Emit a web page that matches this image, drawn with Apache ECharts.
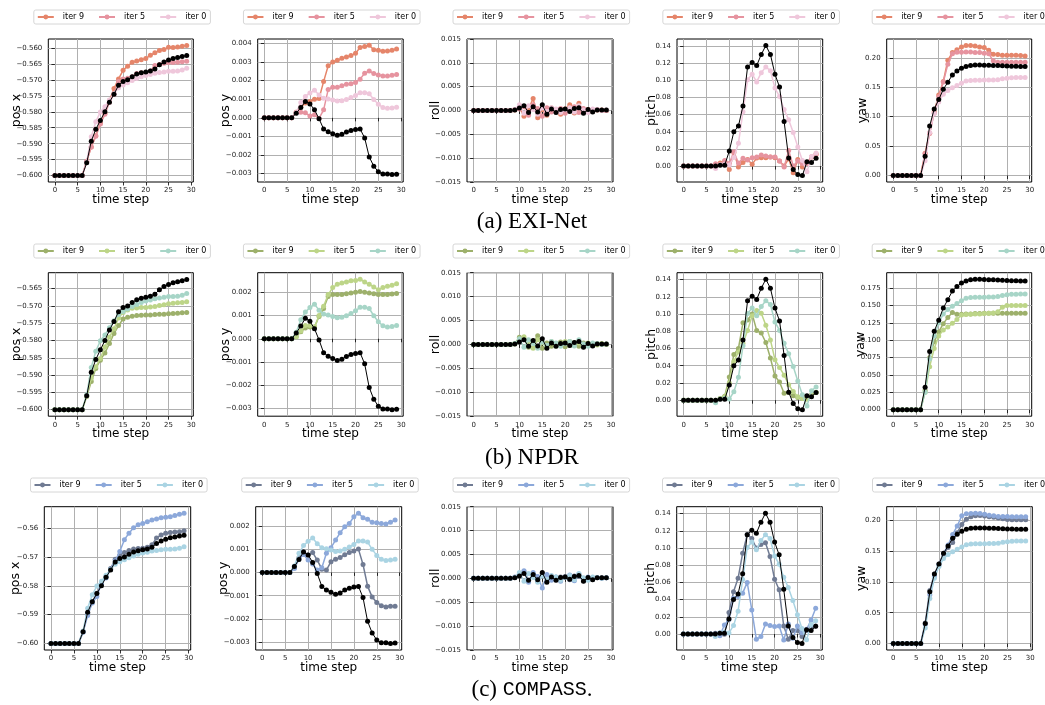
<!DOCTYPE html>
<html>
<head>
<meta charset="utf-8">
<script src="https://cdn.jsdelivr.net/npm/echarts@6/dist/echarts.min.js"></script>
<style>
html,body{margin:0;padding:0;background:#fff;}
#chart{width:1045px;height:705px;}
</style>
</head>
<body>
<div id="chart"></div>
<script>
// ---------------- data ----------------
const steps = [0,1,2,3,4,5,6,7,8,9,10,11,12,13,14,15,16,17,18,19,20,21,22,23,24,25,26,27,28,29];
const legendNames = ['iter 9','iter 5','iter 0'];
const quantityNames = ['pos x','pos y','roll','pitch','yaw'];
const captions = ['(a) EXI-Net','(b) NPDR','(c) COMPASS.'];
const xTickValues = [0,5,10,15,20,25,30];

// ground truth (black)
const gtPosX = [-0.600,-0.600,-0.600,-0.600,-0.600,-0.600,-0.600,-0.5960,-0.5892,-0.5855,-0.5827,-0.5800,-0.5770,-0.5745,-0.5717,-0.5705,-0.5700,-0.5690,-0.5682,-0.5678,-0.5675,-0.5672,-0.5666,-0.5653,-0.5644,-0.5638,-0.5633,-0.5630,-0.5627,-0.5624];
const gtPosY = [0,0,0,0,0,0,0,0.00025,0.00055,0.00088,0.00075,0.00043,-0.00005,-0.0006,-0.00075,-0.00085,-0.00094,-0.00088,-0.00076,-0.00068,-0.00063,-0.0006,-0.00108,-0.0021,-0.0026,-0.0029,-0.00302,-0.00302,-0.00305,-0.00303];
const gtRoll = [0,0,0,0,0,0,0,0,0,0.0001,0.0005,0.0010,-0.0004,0.0008,-0.0003,0.0012,-0.0008,0.0003,-0.0004,0.0002,0.0003,-0.0002,0.0004,0.0006,-0.0006,0.0002,-0.0003,0.0001,0.0001,0.0001];
const gtPitch = [0,0,0,0,0,0,0,0,0.001,0.001,0.0175,0.040,0.0466,0.070,0.1155,0.1207,0.117,0.130,0.1404,0.130,0.107,0.092,0.052,0.0093,-0.004,-0.010,-0.011,0.005,0.004,0.009];
const gtYaw = [0,0,0,0,0,0,0,0.0325,0.084,0.113,0.129,0.1465,0.1585,0.171,0.1775,0.1825,0.1855,0.1872,0.1878,0.1878,0.1876,0.1874,0.1872,0.1869,0.1866,0.1862,0.1859,0.1857,0.1855,0.1855];

// iter 0 (same initialisation in every method)
const it0PosX = [-0.600,-0.600,-0.600,-0.600,-0.600,-0.600,-0.600,-0.5957,-0.5878,-0.5831,-0.5801,-0.5784,-0.5763,-0.5743,-0.5725,-0.5716,-0.5709,-0.5702,-0.5696,-0.5690,-0.5686,-0.5683,-0.5679,-0.5677,-0.5675,-0.5673,-0.5673,-0.5672,-0.5669,-0.5664];
const it0PosY = [0,0,0,0,0,0,0,0.00028,0.00082,0.00115,0.00134,0.00148,0.00123,0.00106,0.00102,0.00096,0.0009,0.00092,0.00099,0.00109,0.0012,0.00135,0.00135,0.0013,0.00099,0.00073,0.00056,0.00051,0.00053,0.00057];
const it0Roll = [0,0,0,0,0,0,0,0,0,0.0002,0.0012,-0.0006,0.0010,0.0002,-0.0008,0.0005,-0.0002,0.0006,0.0003,-0.0004,0.0002,0.0006,-0.0003,0.0010,0.0001,-0.0004,0.0003,0.0002,0.0000,0.0001];
const it0Pitch = [0,0,0,0,0,0,0,-0.003,0.0015,0.002,0.0013,0.0098,0.0265,0.0633,0.1005,0.107,0.098,0.1088,0.1155,0.111,0.0908,0.081,0.066,0.054,0.039,0.0223,0.0064,-0.0068,0.011,0.0153];
const it0Yaw = [0,0,0,0,0,0,0,0.025,0.073,0.106,0.125,0.138,0.1445,0.149,0.153,0.157,0.1605,0.1615,0.162,0.162,0.1622,0.1623,0.1625,0.163,0.1645,0.1655,0.1662,0.1665,0.1666,0.1666];

// EXI-Net
const exi9PosX = [-0.600,-0.600,-0.600,-0.600,-0.600,-0.600,-0.600,-0.5955,-0.5910,-0.5875,-0.5835,-0.5805,-0.5765,-0.5727,-0.5697,-0.5670,-0.5657,-0.5645,-0.5641,-0.5637,-0.5633,-0.5623,-0.5615,-0.5608,-0.5605,-0.5598,-0.5599,-0.5597,-0.5595,-0.5592];
const exi5PosX = [-0.600,-0.600,-0.600,-0.600,-0.600,-0.600,-0.600,-0.5955,-0.5910,-0.5877,-0.5838,-0.5808,-0.5770,-0.5745,-0.5705,-0.5697,-0.5695,-0.5690,-0.5680,-0.5678,-0.5677,-0.5672,-0.5655,-0.5652,-0.5648,-0.5646,-0.5646,-0.5645,-0.5643,-0.5642];
const exi9PosY = [0,0,0,0,0,0,0,0.0003,0.00057,0.0008,0.00088,0.001,0.00104,0.00195,0.0028,0.003,0.0031,0.0032,0.00327,0.00335,0.00347,0.00378,0.00384,0.0039,0.00366,0.00363,0.00358,0.0036,0.00363,0.0037];
const exi5PosY = [0,0,0,0,0,0,0,0.0003,0.0003,0.00027,0.0001,0.00016,-0.00003,0.00043,0.00152,0.00165,0.00165,0.00172,0.0018,0.00184,0.0019,0.00208,0.0024,0.00252,0.00238,0.00231,0.00225,0.00225,0.00229,0.00233];
const exi9Roll = [0,0,0,0,0,0,0,0,0,0.0001,0.0006,-0.0012,0.0003,0.0025,-0.0015,0.0002,-0.0010,0.0005,0.0001,-0.0008,0.0003,0.0012,-0.0005,0.0015,-0.0003,0.0002,-0.0002,0.0001,0.0001,0.0];
const exi5Roll = [0,0,0,0,0,0,0,0,0,0.0002,0.0003,0.0008,-0.0010,0.0012,0.0004,-0.0012,0.0006,-0.0003,0.0002,0.0004,-0.0006,0.0003,0.0008,-0.0004,0.0004,-0.0002,0.0001,0.0002,0.0,0.0];
const exi9Pitch = [0,0,0,0,0,0,0,0.0015,0.0035,0.0055,-0.004,0.0155,-0.001,0.004,0.0075,0.002,0.0095,0.0097,0.0097,0.0105,0.0097,0.006,0,0.0085,-0.0078,0.0075,-0.001,0.0035,0.0105,0.014];
const exi5Pitch = [0,0,0,0,0,0,0,0.0027,0.0015,0.0065,0.003,0.0165,0.0035,0.009,0.007,0.0097,0.0105,0.013,0.0117,0.0105,0.0105,0.006,-0.001,0.018,0,0.006,0.003,0.003,0.0105,0.0135];
const exi9Yaw = [0,0,0,0,0,0,0,0.0378,0.0717,0.1085,0.137,0.16,0.196,0.209,0.214,0.2186,0.221,0.221,0.2203,0.2186,0.2175,0.213,0.206,0.2056,0.2045,0.2045,0.2045,0.2045,0.2042,0.203];
const exi5Yaw = [0,0,0,0,0,0,0,0.037,0.072,0.106,0.134,0.159,0.189,0.207,0.2096,0.2096,0.21,0.21,0.209,0.209,0.208,0.207,0.195,0.1927,0.1927,0.1927,0.1927,0.1927,0.1927,0.1927];

// NPDR
const npdr9PosX = [-0.600,-0.600,-0.600,-0.600,-0.600,-0.600,-0.600,-0.5962,-0.5919,-0.5881,-0.5857,-0.5836,-0.5809,-0.5780,-0.5757,-0.5738,-0.5733,-0.5730,-0.5728,-0.5727,-0.5726,-0.5726,-0.5725,-0.5724,-0.5724,-0.5723,-0.5722,-0.5721,-0.5720,-0.5719];
const npdr5PosX = [-0.600,-0.600,-0.600,-0.600,-0.600,-0.600,-0.600,-0.5960,-0.5909,-0.5876,-0.5852,-0.5819,-0.5790,-0.5766,-0.5735,-0.5719,-0.5712,-0.5707,-0.5706,-0.5705,-0.5705,-0.5703,-0.5702,-0.5699,-0.5697,-0.5694,-0.5692,-0.5691,-0.5690,-0.5688];
const npdr9PosY = [0,0,0,0,0,0,0,0.0001,0.0003,0.00046,0.0005,0.0005,0.00096,0.0013,0.00182,0.0019,0.0019,0.0019,0.00194,0.00197,0.002,0.00203,0.002,0.00197,0.00194,0.0019,0.0019,0.0019,0.00192,0.00195];
const npdr5PosY = [0,0,0,0,0,0,0,0.00007,0.00033,0.00057,0.00057,0.0005,0.001,0.0014,0.0019,0.0022,0.00234,0.0024,0.00244,0.00249,0.00251,0.00256,0.00244,0.00234,0.00223,0.00211,0.0022,0.00226,0.0023,0.00237];
const npdr9Roll = [0,0,0,0,0,0,0,0,0,0.0002,0.0015,0.0012,-0.0006,0.0004,0.0018,-0.0008,0.0003,-0.0004,0.0002,0.0005,-0.0005,0.0006,0.0002,-0.0004,0.0003,0.0001,-0.0002,0.0002,0.0001,0.0];
const npdr5Roll = [0,0,0,0,0,0,0,0,0,0.0001,0.0008,0.0016,0.0002,-0.0008,0.0010,0.0004,-0.0005,0.0006,-0.0003,0.0002,0.0006,-0.0002,0.0004,0.0003,-0.0005,0.0003,0.0001,-0.0001,0.0002,0.0001];
const npdr9Pitch = [0,0,0,0,0,0,0,-0.001,0.002,0.0047,0.027,0.053,0.06,0.09,0.093,0.100,0.081,0.078,0.067,0.049,0.028,0.021,0.008,0.009,0.005,0.003,0.002,0.003,0.006,0.009];
const npdr5Pitch = [0,0,0,0,0,0,0,0,0.002,0.004,0.02,0.045,0.056,0.066,0.081,0.098,0.104,0.101,0.087,0.07,0.047,0.038,0.029,0.018,0.01,0.004,0.002,0.001,0.006,0.009];
const npdr9Yaw = [0,0,0,0,0,0,0,0.028,0.075,0.098,0.112,0.124,0.133,0.140,0.1375,0.1375,0.138,0.138,0.1385,0.1385,0.139,0.139,0.139,0.139,0.139,0.139,0.139,0.139,0.139,0.139];
const npdr5Yaw = [0,0,0,0,0,0,0,0.025,0.062,0.088,0.106,0.115,0.119,0.1245,0.130,0.1365,0.137,0.1375,0.138,0.138,0.1385,0.139,0.1395,0.1413,0.1476,0.150,0.150,0.150,0.150,0.150];

// COMPASS
const comp9PosX = [-0.600,-0.600,-0.600,-0.600,-0.600,-0.600,-0.600,-0.5960,-0.5895,-0.5855,-0.5826,-0.5794,-0.5768,-0.5740,-0.5708,-0.5693,-0.5684,-0.5677,-0.5672,-0.5670,-0.5669,-0.5666,-0.5657,-0.5634,-0.5623,-0.5617,-0.5615,-0.5613,-0.5612,-0.5609];
const comp5PosX = [-0.600,-0.600,-0.600,-0.600,-0.600,-0.600,-0.600,-0.5961,-0.5903,-0.5860,-0.5837,-0.5791,-0.5773,-0.5742,-0.5713,-0.5681,-0.5640,-0.5617,-0.5598,-0.5588,-0.5583,-0.5577,-0.5571,-0.5568,-0.5563,-0.5562,-0.5560,-0.5556,-0.5551,-0.5548];
const comp9PosY = [0,0,0,0,0,0,0,0.0002,0.00063,0.00089,0.00075,0.00085,0.00053,0.00014,0.0001,0.00046,0.00056,0.00064,0.00076,0.00085,0.00092,0.001,0.00034,-0.00059,-0.00106,-0.00129,-0.00143,-0.00148,-0.00145,-0.00145];
const comp5PosY = [0,0,0,0,0,0,0,0.00017,0.00056,0.00077,0.00053,0.00036,0.0001,0.0002,0.00082,0.00106,0.00139,0.0017,0.00196,0.0021,0.00239,0.00254,0.00235,0.00228,0.00215,0.00213,0.0021,0.00208,0.00215,0.00225];
const comp9Roll = [0,0,0,0,0,0,0,0,0,0.0002,0.0006,0.0014,-0.0004,0.0009,-0.0006,0.0010,-0.0005,0.0004,-0.0003,0.0003,0.0004,-0.0003,0.0005,0.0004,-0.0005,0.0002,-0.0002,0.0001,0.0001,0.0001];
const comp5Roll = [0,0,0,0,0,0,0,0,0,0.0003,0.0010,0.0016,-0.0008,0.0012,0.0004,-0.0020,0.0008,-0.0004,0.0003,-0.0006,0.0002,0.0007,-0.0005,0.0009,-0.0004,0.0003,-0.0002,0.0002,0.0,0.0001];
const comp9Pitch = [0,0,0,0,0,0,0,0.0008,0.0008,-0.0004,0.025,0.049,0.0647,0.094,0.1156,0.111,0.100,0.104,0.106,0.090,0.0636,0.0514,0.0093,-0.0062,0.004,0.004,-0.003,0.004,0.0066,0.0093];
const comp5Pitch = [0,0,0,0,0,0,0,-0.001,-0.002,0.0105,0.017,0.0416,0.0436,0.0475,0.060,0.028,-0.0062,-0.003,0.0117,0.010,0.0086,0.0093,-0.007,0.0117,-0.005,0.0093,0.0016,0.0054,0.0163,0.030];
const comp9Yaw = [0,0,0,0,0,0,0,0.0334,0.0862,0.113,0.129,0.1455,0.156,0.164,0.180,0.1934,0.202,0.206,0.2075,0.208,0.207,0.206,0.205,0.2038,0.2026,0.2016,0.201,0.201,0.201,0.201];
const comp5Yaw = [0,0,0,0,0,0,0,0.0307,0.079,0.1088,0.1277,0.1466,0.160,0.177,0.191,0.2075,0.211,0.2112,0.2117,0.2112,0.210,0.2085,0.2075,0.2065,0.2065,0.2062,0.206,0.206,0.206,0.206];

// y tick labels per panel
const yTicksPosX1 = [-0.600,-0.595,-0.590,-0.585,-0.580,-0.575,-0.570,-0.565,-0.560];
const yTicksPosX2 = [-0.600,-0.595,-0.590,-0.585,-0.580,-0.575,-0.570,-0.565];
const yTicksPosX3 = [-0.60,-0.59,-0.58,-0.57,-0.56];
const yTicksPosY1 = [-0.003,-0.002,-0.001,0.000,0.001,0.002,0.003,0.004];
const yTicksPosY23 = [-0.003,-0.002,-0.001,0.000,0.001,0.002];
const yTicksRoll = [-0.015,-0.010,-0.005,0.000,0.005,0.010,0.015];
const yTicksPitch = [0.00,0.02,0.04,0.06,0.08,0.10,0.12,0.14];
const yTicksYaw13 = [0.00,0.05,0.10,0.15,0.20];
const yTicksYaw2 = [0.000,0.025,0.050,0.075,0.100,0.125,0.150,0.175];

// ---------------- layout / style ----------------
const rows = [
  { gt:[gtPosX,gtPosY,gtRoll,gtPitch,gtYaw],
    it9:[exi9PosX,exi9PosY,exi9Roll,exi9Pitch,exi9Yaw],
    it5:[exi5PosX,exi5PosY,exi5Roll,exi5Pitch,exi5Yaw],
    it0:[it0PosX,it0PosY,it0Roll,it0Pitch,it0Yaw],
    colors:['#e5856a','#e6939f','#efc7db'],
    top:39, height:143, legendTop:10,
    lefts:[48.3,257.7,467,677,886.7], widths:[145,145.5,146,145.7,145],
    axes:[
      {ticks:yTicksPosX1, min:-0.6020, max:-0.5572, dec:3, gap:25},
      {ticks:yTicksPosY1, min:-0.00345, max:0.00424, dec:3, gap:25},
      {ticks:yTicksRoll, min:-0.015, max:0.015, dec:3, gap:25},
      {ticks:yTicksPitch, min:-0.0186, max:0.1480, dec:2, gap:19},
      {ticks:yTicksYaw13, min:-0.0111, max:0.2321, dec:2, gap:17}
    ], captionY:222 },
  { gt:[gtPosX,gtPosY,gtRoll,gtPitch,gtYaw],
    it9:[npdr9PosX,npdr9PosY,npdr9Roll,npdr9Pitch,npdr9Yaw],
    it5:[npdr5PosX,npdr5PosY,npdr5Roll,npdr5Pitch,npdr5Yaw],
    it0:[it0PosX,it0PosY,it0Roll,it0Pitch,it0Yaw],
    colors:['#9db06b','#bdd588','#a7d5c7'],
    top:272.7, height:143.5, legendTop:244,
    lefts:[48.3,257.7,467,677,886.7], widths:[145,145.5,146,145.7,145],
    axes:[
      {ticks:yTicksPosX2, min:-0.6019, max:-0.5604, dec:3, gap:25},
      {ticks:yTicksPosY23, min:-0.00333, max:0.00284, dec:3, gap:25},
      {ticks:yTicksRoll, min:-0.015, max:0.015, dec:3, gap:25},
      {ticks:yTicksPitch, min:-0.0186, max:0.1480, dec:2, gap:19},
      {ticks:yTicksYaw2, min:-0.0094, max:0.1974, dec:3, gap:19}
    ], captionY:458 },
  { gt:[gtPosX,gtPosY,gtRoll,gtPitch,gtYaw],
    it9:[comp9PosX,comp9PosY,comp9Roll,comp9Pitch,comp9Yaw],
    it5:[comp5PosX,comp5PosY,comp5Roll,comp5Pitch,comp5Yaw],
    it0:[it0PosX,it0PosY,it0Roll,it0Pitch,it0Yaw],
    colors:['#707b93','#8ca8da','#aad4e3'],
    top:506.7, height:143.3, legendTop:478,
    lefts:[44.3,255.7,467,676.7,886.7], widths:[146.4,146,146,145.6,145.6],
    axes:[
      {ticks:yTicksPosX3, min:-0.6023, max:-0.5525, dec:2, gap:22},
      {ticks:yTicksPosY23, min:-0.00333, max:0.00282, dec:3, gap:25},
      {ticks:yTicksRoll, min:-0.015, max:0.015, dec:3, gap:25},
      {ticks:yTicksPitch, min:-0.0186, max:0.1480, dec:2, gap:19},
      {ticks:yTicksYaw13, min:-0.0106, max:0.2223, dec:2, gap:18}
    ], captionY:690 }
];

const FONT = 'DejaVu Sans';
function fmt(v, dec){
  const s = Math.abs(v).toFixed(dec);
  return (v < -1e-12 ? '\u2212' : '') + s;
}
function pairs(arr){ return steps.map((t,i)=>[t, arr[i]]); }

const grid = [], xAxis = [], yAxis = [], series = [], legend = [], graphic = [];
let gi = 0;
rows.forEach((row, r) => {
  const names = legendNames.map(n => n + '|' + r);
  for (let p = 0; p < 5; p++) {
    const left = row.lefts[p], width = row.widths[p];
    grid.push({left:left, top:row.top, width:width, height:row.height,
      show:true, borderColor:'#000', borderWidth:1, backgroundColor:'transparent', containLabel:false});
    xAxis.push({type:'value', gridIndex:gi, min:-1.45, max:30.45,
      axisLine:{show:false},
      axisTick:{show:true, length:3.5, customValues:xTickValues, lineStyle:{color:'#000', width:0.8}},
      axisLabel:{customValues:xTickValues, fontSize:7, color:'#222', margin:5, fontFamily:FONT},
      splitLine:{show:true, lineStyle:{color:'#b0b0b0', width:1}},
      name:'time step', nameLocation:'middle', nameGap:12, nameMoveOverlap:false,
      nameTextStyle:{fontSize:12, color:'#000', fontFamily:FONT}});
    const ax = row.axes[p];
    yAxis.push({type:'value', gridIndex:gi, min:ax.min, max:ax.max,
      axisLine:{show:false},
      axisTick:{show:true, length:3.5, customValues:ax.ticks, lineStyle:{color:'#000', width:0.8}},
      axisLabel:{customValues:ax.ticks, fontSize:7, color:'#222', margin:6, fontFamily:FONT,
        formatter:(v)=>fmt(v, ax.dec)},
      splitLine:{show:true, lineStyle:{color:'#b0b0b0', width:1}},
      name:quantityNames[p], nameLocation:'middle', nameGap:ax.gap, nameMoveOverlap:false,
      nameTextStyle:{fontSize:12.5, color:'#000', fontFamily:FONT}});
    const sets = [row.it9[p], row.it5[p], row.it0[p]];
    sets.forEach((arr, k) => {
      series.push({type:'line', name:names[k], xAxisIndex:gi, yAxisIndex:gi,
        data:pairs(arr), symbol:'circle', symbolSize:5, silent:true,
        color:row.colors[k],
        lineStyle:{width:1.5, color:row.colors[k]},
        itemStyle:{color:row.colors[k], borderWidth:0},
        z:2+k});
    });
    series.push({type:'line', name:'ground truth', xAxisIndex:gi, yAxisIndex:gi,
      data:pairs(row.gt[p]), symbol:'circle', symbolSize:5, silent:true,
      color:'#000', lineStyle:{width:1, color:'#000'}, itemStyle:{color:'#000', borderWidth:0}, z:6});
    const center = left + width/2;
    legend.push({data:names, left:center - 87, top:row.legendTop, width:200,
      itemWidth:16, itemHeight:6, itemGap:14, padding:[3,4,3,3],
      borderColor:'#cccccc', borderWidth:0.8, borderRadius:2, backgroundColor:'#fff',
      textStyle:{fontSize:8, color:'#000', fontFamily:FONT, padding:[0,0,0,4]},
      formatter:(n)=>n.split('|')[0], selectedMode:false});
    gi++;
  }
  const cap = captions[r];
  if (r < 2) {
    graphic.push({type:'text', x:532, y:row.captionY, style:{text:cap, font:'23px "Liberation Serif"', fill:'#000', textAlign:'center', textVerticalAlign:'middle'}});
  } else {
    graphic.push({type:'text', x:532, y:row.captionY, style:{text:'(c) {m|COMPASS}.', font:'23px "Liberation Serif"', fill:'#000', textAlign:'center', textVerticalAlign:'middle',
      rich:{m:{fontFamily:'Liberation Mono', fontSize:20}}}});
  }
});

const chart = echarts.init(document.getElementById('chart'), null, {renderer:'canvas'});
chart.setOption({animation:false, backgroundColor:'#fff', grid, xAxis, yAxis, series, legend, graphic});
</script>
</body>
</html>
